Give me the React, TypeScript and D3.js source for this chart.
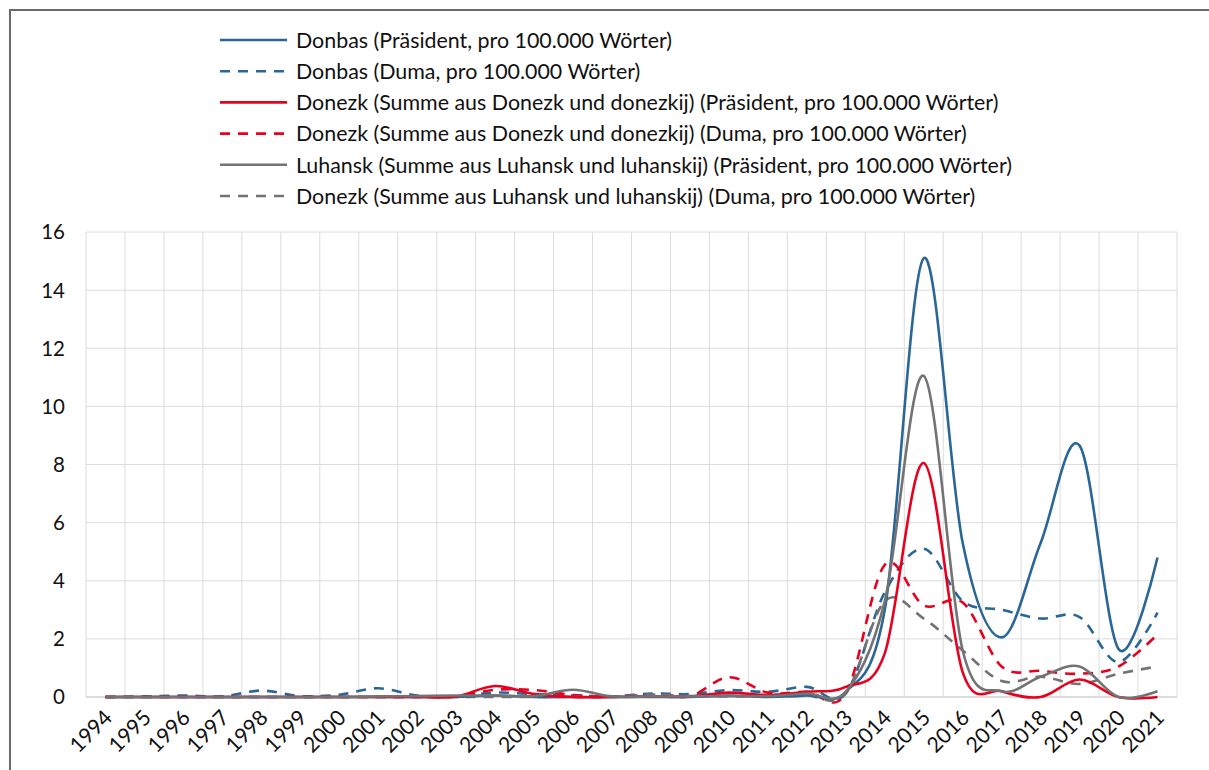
import React from "react";
import * as d3 from "d3";

const years = [
  "1994","1995","1996","1997","1998","1999","2000","2001","2002","2003",
  "2004","2005","2006","2007","2008","2009","2010","2011","2012","2013",
  "2014","2015","2016","2017","2018","2019","2020","2021",
];

const donbasPraesident = [0,0,0,0,0,0,0,0,0,0, 0.05,0,0,0,0,0,0.05,0,0.05,0.18, 3.0,15.1,5.3,2.05,5.3,8.65,1.65,4.8];
const donbasDuma = [0,0.02,0.05,0.02,0.22,0.03,0.08,0.3,0.05,0.02, 0.15,0.1,0.05,0.02,0.12,0.1,0.24,0.18,0.35,0.12, 3.6,5.1,3.3,3.0,2.7,2.75,1.2,2.9];
const donezkPraesident = [0,0,0,0,0,0,0,0,0,0.02, 0.38,0.1,0,0,0.02,0.02,0.15,0.07,0.18,0.35, 1.5,8.05,0.85,0.2,0,0.6,0,0];
const donezkDuma = [0,0,0,0,0,0,0,0,0,0.02, 0.25,0.24,0.07,0.02,0.06,0.03,0.68,0.15,0.18,0.12, 4.55,3.15,3.25,1.05,0.9,0.8,1.05,2.15];
const luhanskPraesident = [0,0,0,0,0,0,0,0.02,0.03,0.05, 0.05,0.03,0.25,0.02,0.02,0.02,0.03,0.03,0.12,0.18, 3.3,11.05,1.6,0.2,0.7,1.05,0,0.2];
const luhanskDuma = [0,0,0,0,0,0,0,0,0,0, 0,0,0,0,0.08,0.03,0.02,0.02,0.05,0.12, 3.3,2.7,1.6,0.55,0.7,0.45,0.8,1.05];

const yTicks = [0, 2, 4, 6, 8, 10, 12, 14, 16];

const BLUE = "#2a6696";
const RED = "#e8001f";
const GREY = "#737373";

const series = [
  { label: "Donbas (Präsident, pro 100.000 Wörter)", values: donbasPraesident, color: BLUE, dashed: false },
  { label: "Donbas (Duma, pro 100.000 Wörter)", values: donbasDuma, color: BLUE, dashed: true },
  { label: "Donezk (Summe aus Donezk und donezkij) (Präsident, pro 100.000 Wörter)", values: donezkPraesident, color: RED, dashed: false },
  { label: "Donezk (Summe aus Donezk und donezkij) (Duma, pro 100.000 Wörter)", values: donezkDuma, color: RED, dashed: true },
  { label: "Luhansk (Summe aus Luhansk und luhanskij) (Präsident, pro 100.000 Wörter)", values: luhanskPraesident, color: GREY, dashed: false },
  { label: "Donezk (Summe aus Luhansk und luhanskij) (Duma, pro 100.000 Wörter)", values: luhanskDuma, color: GREY, dashed: true },
];

const W = 1209;
const H = 770;
const plot = { left: 86, right: 1177, top: 232, bottom: 697 };
const FONT = "Lato, 'Open Sans', sans-serif";

export default function App() {
  const x = d3.scaleBand<string>().domain(years).range([plot.left, plot.right]).paddingInner(0).paddingOuter(0);
  const y = d3.scaleLinear().domain([0, 16]).range([plot.bottom, plot.top]);
  const cx = (yr: string) => (x(yr) as number) + x.bandwidth() / 2;

  const line = d3
    .line<number>()
    .x((_, i) => cx(years[i]))
    .y((v) => y(v))
    .curve(d3.curveCardinal.tension(0));

  const boundaries = years.map((yr) => x(yr) as number).concat([plot.right]);

  const drawOrder = [1, 3, 5, 0, 2, 4];

  return (
    <svg
      width={W}
      height={H}
      style={{ position: "absolute", left: 0, top: 0, background: "#fff" }}
      fontFamily={FONT}
    >
      <rect x={0} y={0} width={W} height={H} fill="#fff" />
      {/* outer chart border */}
      <line x1={9} x2={W} y1={10} y2={10} stroke="#6a6a6a" strokeWidth={2} />
      <line x1={10} x2={10} y1={9} y2={H} stroke="#6a6a6a" strokeWidth={2} />

      {/* gridlines */}
      {yTicks.map((t) => (
        <line key={"h" + t} x1={plot.left} x2={plot.right} y1={y(t)} y2={y(t)} stroke="#dcdcdc" strokeWidth={t === 0 ? 2 : 1} />
      ))}
      {boundaries.map((bx, i) => (
        <line key={"v" + i} x1={bx} x2={bx} y1={plot.top} y2={plot.bottom} stroke="#dcdcdc" strokeWidth={1} />
      ))}

      {/* y labels */}
      {yTicks.map((t) => (
        <text key={"yl" + t} x={65} y={y(t)} dy="0.36em" textAnchor="end" fontSize={20.5} fill="#111">
          {t}
        </text>
      ))}

      {/* x labels */}
      {years.map((yr) => (
        <text
          key={"xl" + yr}
          transform={`translate(${cx(yr) + 8},${719}) rotate(-45)`}
          textAnchor="end"
          fontSize={21.3}
          fill="#111"
        >
          {yr}
        </text>
      ))}

      {/* series */}
      {drawOrder.map((si) => {
        const s = series[si];
        return (
          <path
            key={"s" + si}
            d={line(s.values) || ""}
            fill="none"
            stroke={s.color}
            strokeWidth={2.6}
            strokeDasharray={s.dashed ? "10,8" : undefined}
            strokeLinejoin="round"
          />
        );
      })}

      {/* legend */}
      {series.map((s, i) => {
        const ly = 40 + i * 31.2;
        return (
          <g key={"lg" + i}>
            <line x1={220} x2={287} y1={ly} y2={ly} stroke={s.color} strokeWidth={2.6} strokeDasharray={s.dashed ? "10,8" : undefined} />
            <text x={296} y={ly} dy="0.36em" fontSize={21.4} fill="#111">
              {s.label}
            </text>
          </g>
        );
      })}
    </svg>
  );
}
